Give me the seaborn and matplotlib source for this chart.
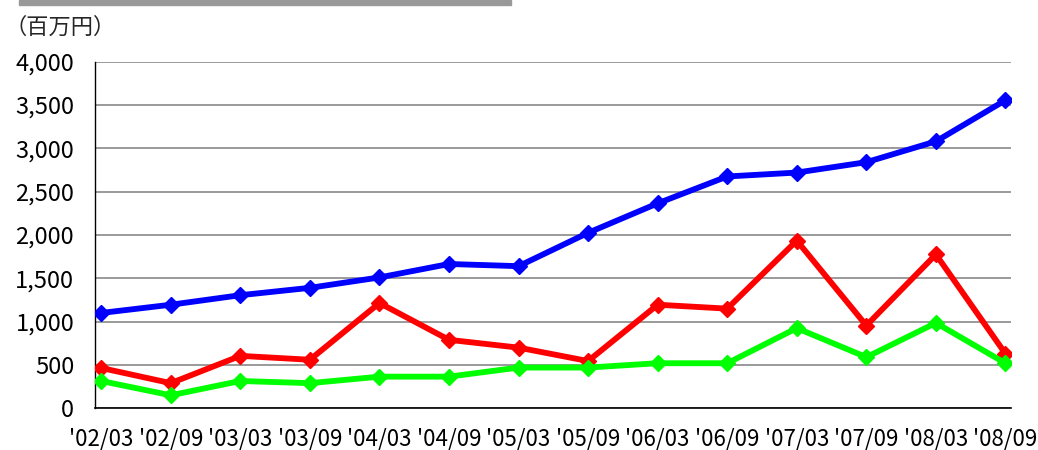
import matplotlib
matplotlib.use("Agg")
import matplotlib.pyplot as plt
from matplotlib.patches import Rectangle
import seaborn as sns
import numpy as np

periods = ["'02/03", "'02/09", "'03/03", "'03/09", "'04/03", "'04/09", "'05/03",
           "'05/09", "'06/03", "'06/09", "'07/03", "'07/09", "'08/03", "'08/09"]
series_blue = [1100, 1195, 1305, 1390, 1510, 1665, 1640, 2025, 2365, 2675, 2720, 2840, 3080, 3555]
series_red = [465, 290, 605, 560, 1215, 790, 700, 545, 1195, 1150, 1935, 955, 1775, 630]
series_green = [315, 150, 315, 290, 365, 365, 470, 470, 520, 520, 925, 590, 985, 520]
y_ticks = [0, 500, 1000, 1500, 2000, 2500, 3000, 3500, 4000]
unit_label = "（百万円）"

sns.set_theme(style="white")
plt.rcParams["font.family"] = ["Noto Sans CJK JP", "DejaVu Sans"]

fig = plt.figure(figsize=(10.38, 4.5), dpi=100)
ax = fig.add_axes([0.0915, 0.0927, 0.974 - 0.0915, 0.863 - 0.0927])

x = np.arange(len(periods))
for vals, col in [(series_blue, "#0000FF"), (series_red, "#FF0000"), (series_green, "#00FF00")]:
    sns.lineplot(x=x, y=vals, ax=ax, color=col, linewidth=4.2, marker="D",
                 markersize=8.5, markeredgecolor=col, markeredgewidth=1, zorder=3)

ax.set_ylim(0, 4000)
ax.set_xlim(-0.045, len(periods) - 1 + 0.08)
ax.set_yticks(y_ticks)
ax.set_yticklabels([f"{v:,}" for v in y_ticks], fontsize=17, color="black")
ax.yaxis.grid(True, color="#9a9a9a", linewidth=1.4, zorder=1)
ax.xaxis.grid(False)

ax.set_xticks(x)
ax.set_xticklabels(periods, fontsize=16, color="black")
ax.tick_params(axis="x", which="major", length=0, pad=14)
ax.set_xticks(x - 0.09, minor=True)
ax.tick_params(axis="x", which="minor", direction="in", length=5, width=1, color="black")
ax.tick_params(axis="y", which="major", direction="in", length=5, width=1, color="black", pad=15)

for side in ["top", "right"]:
    ax.spines[side].set_visible(False)
ax.spines["left"].set_color("black")
ax.spines["left"].set_linewidth(1)
ax.spines["bottom"].set_color("black")
ax.spines["bottom"].set_linewidth(1.2)

fig.text(0.004, 0.94, unit_label, fontsize=16, va="center", ha="left")
fig.patches.append(Rectangle((19 / 1038, 1 - 5 / 450), (511 - 19) / 1038, 5 / 450,
                             transform=fig.transFigure, color="#999999", zorder=0))

fig.savefig("out.png", dpi=100)
